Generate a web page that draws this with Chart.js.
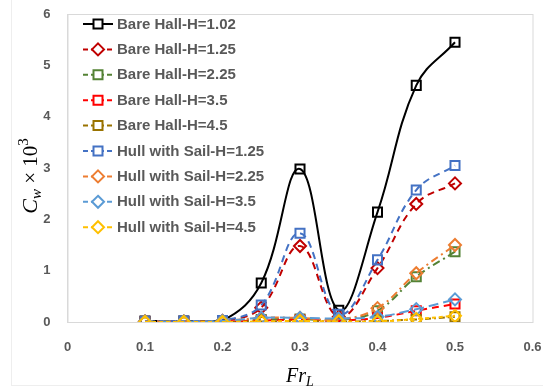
<!DOCTYPE html>
<html>
<head>
<meta charset="utf-8">
<script src="https://cdn.jsdelivr.net/npm/chart.js@4.4.0/dist/chart.umd.min.js"></script>
<style>
  html, body { margin: 0; padding: 0; background: #fff; }
  #wrap { width: 543px; height: 388px; }
</style>
</head>
<body>
<div id="wrap"><canvas id="grafico" width="543" height="388"></canvas></div>
<script>
// Fr_L sampled on the x axis
const frL = [0.1, 0.15, 0.2, 0.25, 0.3, 0.35, 0.4, 0.45, 0.5];

// Cw x 10^3 for each case
const bareH102 = [0.02, 0.02, 0.03, 0.76, 2.98, 0.23, 2.14, 4.61, 5.45];
const bareH125 = [0.01, 0.01, 0.02, 0.28, 1.48, 0.10, 1.05, 2.30, 2.70];
const bareH225 = [0.01, 0.01, 0.01, 0.05, 0.06, 0.04, 0.22, 0.88, 1.37];
const bareH35  = [0.01, 0.01, 0.01, 0.03, 0.04, 0.03, 0.08, 0.22, 0.35];
const bareH45  = [0.00, 0.00, 0.00, 0.01, 0.02, 0.01, 0.02, 0.05, 0.10];
const sailH125 = [0.01, 0.02, 0.03, 0.33, 1.73, 0.15, 1.21, 2.57, 3.05];
const sailH225 = [0.01, 0.01, 0.02, 0.08, 0.08, 0.05, 0.27, 0.95, 1.50];
const sailH35  = [0.01, 0.01, 0.02, 0.08, 0.08, 0.07, 0.10, 0.25, 0.44];
const sailH45  = [0.00, 0.00, 0.00, 0.01, 0.02, 0.01, 0.01, 0.06, 0.12];

const seriesNames = [
  "Bare Hall-H=1.02", "Bare Hall-H=1.25", "Bare Hall-H=2.25", "Bare Hall-H=3.5",
  "Bare Hall-H=4.5", "Hull with Sail-H=1.25", "Hull with Sail-H=2.25",
  "Hull with Sail-H=3.5", "Hull with Sail-H=4.5"
];
const seriesValues = [bareH102, bareH125, bareH225, bareH35, bareH45, sailH125, sailH225, sailH35, sailH45];

const xTicks = [0, 0.1, 0.2, 0.3, 0.4, 0.5, 0.6];
const yTicks = [0, 1, 2, 3, 4, 5, 6];

// look of each line, same order as seriesNames
const estilos = [
  { cor: "#000000", dash: [],           marca: "rect" },
  { cor: "#C00000", dash: [7, 5],       marca: "rectRot" },
  { cor: "#548235", dash: [8, 4, 2, 4], marca: "rect" },
  { cor: "#FF0000", dash: [7, 5],       marca: "rect" },
  { cor: "#997300", dash: [6, 3, 2, 3], marca: "rect" },
  { cor: "#4472C4", dash: [7, 5],       marca: "rect" },
  { cor: "#ED7D31", dash: [8, 4, 2, 4], marca: "rectRot" },
  { cor: "#5B9BD5", dash: [10, 5],      marca: "rectRot" },
  { cor: "#FFC000", dash: [4, 3],       marca: "rectRot" },
];

const datasets = seriesNames.map((nome, i) => ({
  label: nome,
  data: seriesValues[i].map((v, k) => ({ x: frL[k], y: v })),
  borderColor: estilos[i].cor,
  borderWidth: 2,
  borderDash: estilos[i].dash,
  pointStyle: estilos[i].marca,
  pointRadius: estilos[i].marca === "rect" ? 6.4 : 6,
  pointBackgroundColor: "rgba(255,255,255,0)",
  pointBorderColor: estilos[i].cor,
  pointBorderWidth: 2,
  tension: 0.4,
  fill: false,
  order: seriesNames.length - i,
}));

// box round the plot area + faint outer frame
const moldura = {
  id: "moldura",
  beforeDatasetsDraw(chart) {
    const { ctx, chartArea: a } = chart;
    ctx.save();
    ctx.strokeStyle = "#eeeeee";
    ctx.lineWidth = 1;
    ctx.strokeRect(11.5, -1, 540, 386.5);
    ctx.strokeStyle = "#d9d9d9";
    ctx.strokeRect(a.left + 0.5, a.top + 0.5, a.right - a.left, a.bottom - a.top);
    ctx.restore();
  },
};

function textoRico(ctx, partes, cx, cy) {
  let total = 0;
  partes.forEach(p => { ctx.font = p.font; total += ctx.measureText(p.t).width; });
  let x = cx - total / 2;
  partes.forEach(p => {
    ctx.font = p.font;
    ctx.fillText(p.t, x, cy + (p.dy || 0));
    x += ctx.measureText(p.t).width;
  });
}

// axis titles with sub/superscripts
const titulos = {
  id: "titulos",
  afterDraw(chart) {
    const { ctx, chartArea: a } = chart;
    const serif = "'Liberation Serif', 'DejaVu Serif', serif";
    ctx.save();
    ctx.fillStyle = "#000";
    ctx.textBaseline = "alphabetic";
    ctx.textAlign = "left";
    textoRico(ctx, [
      { t: "Fr", font: "italic 20px " + serif },
      { t: "L", font: "italic 14px " + serif, dy: 4 },
    ], (a.left + a.right) / 2, 382);

    ctx.translate(37, 176);
    ctx.rotate(-Math.PI / 2);
    textoRico(ctx, [
      { t: "C", font: "italic 22px " + serif },
      { t: "w", font: "italic 15px " + serif, dy: 4 },
      { t: " \u00d7 10", font: "21px " + serif },
      { t: "3", font: "15px " + serif, dy: -9 },
    ], 0, 0);
    ctx.restore();
  },
};

// legend drawn inside the plot area, line + marker + label
const legenda = {
  id: "legenda",
  afterDraw(chart) {
    const { ctx, chartArea: a } = chart;
    const x0 = a.left + 15.5;
    const y0 = a.top + 10;
    const passo = 25.4;
    ctx.save();
    chart.data.datasets.forEach((ds, i) => {
      const y = y0 + i * passo;
      ctx.strokeStyle = ds.borderColor;
      ctx.lineWidth = 2;
      ctx.setLineDash(ds.borderDash.length ? [5, 3] : []);
      ctx.beginPath();
      ctx.moveTo(x0, y);
      ctx.lineTo(x0 + 30, y);
      ctx.stroke();
      ctx.setLineDash([]);
      ctx.fillStyle = "#fff";
      const cx = x0 + 15;
      ctx.beginPath();
      if (ds.pointStyle === "rect") {
        ctx.rect(cx - 4.5, y - 4.5, 9, 9);
      } else {
        ctx.moveTo(cx, y - 6); ctx.lineTo(cx + 6, y); ctx.lineTo(cx, y + 6); ctx.lineTo(cx - 6, y);
        ctx.closePath();
      }
      ctx.fill();
      ctx.stroke();
      ctx.fillStyle = "#595959";
      ctx.font = "bold 15px 'Liberation Sans', Arial, sans-serif";
      ctx.textBaseline = "middle";
      ctx.fillText(ds.label, x0 + 34, y + 0.5);
    });
    ctx.restore();
  },
};

const fonteTick = { family: "'Liberation Sans', Arial, sans-serif", size: 13, weight: "bold" };

const config_grafico = {
  type: "line",
  data: { datasets: datasets },
  options: {
    responsive: false,
    animation: false,
    layout: { padding: { left: 0, right: 10.5, top: 14, bottom: 0 } },
    plugins: {
      legend: { display: false },
      tooltip: { enabled: false },
    },
    scales: {
      x: {
        type: "linear",
        min: xTicks[0],
        max: xTicks[xTicks.length - 1],
        afterBuildTicks: (s) => { s.ticks = xTicks.map(v => ({ value: v })); },
        afterFit: (s) => { s.height = 66; s.paddingLeft = 0; s.paddingRight = 0; },
        grid: { display: false, drawTicks: false },
        border: { display: true, color: "#d9d9d9" },
        ticks: { color: "#595959", font: fonteTick, padding: 18, maxRotation: 0,
                 callback: (v) => String(Math.round(v * 10) / 10) },
      },
      y: {
        type: "linear",
        min: yTicks[0],
        max: yTicks[yTicks.length - 1],
        afterBuildTicks: (s) => { s.ticks = yTicks.map(v => ({ value: v })); },
        afterFit: (s) => { s.width = 67.5; s.paddingTop = 0; s.paddingBottom = 0; },
        grid: { display: false, drawTicks: false },
        border: { display: true, color: "#d9d9d9" },
        ticks: { color: "#595959", font: fonteTick, padding: 17 },
      },
    },
  },
  plugins: [moldura, titulos, legenda],
};

const myChart = new Chart(document.getElementById("grafico"), config_grafico);
</script>
</body>
</html>
